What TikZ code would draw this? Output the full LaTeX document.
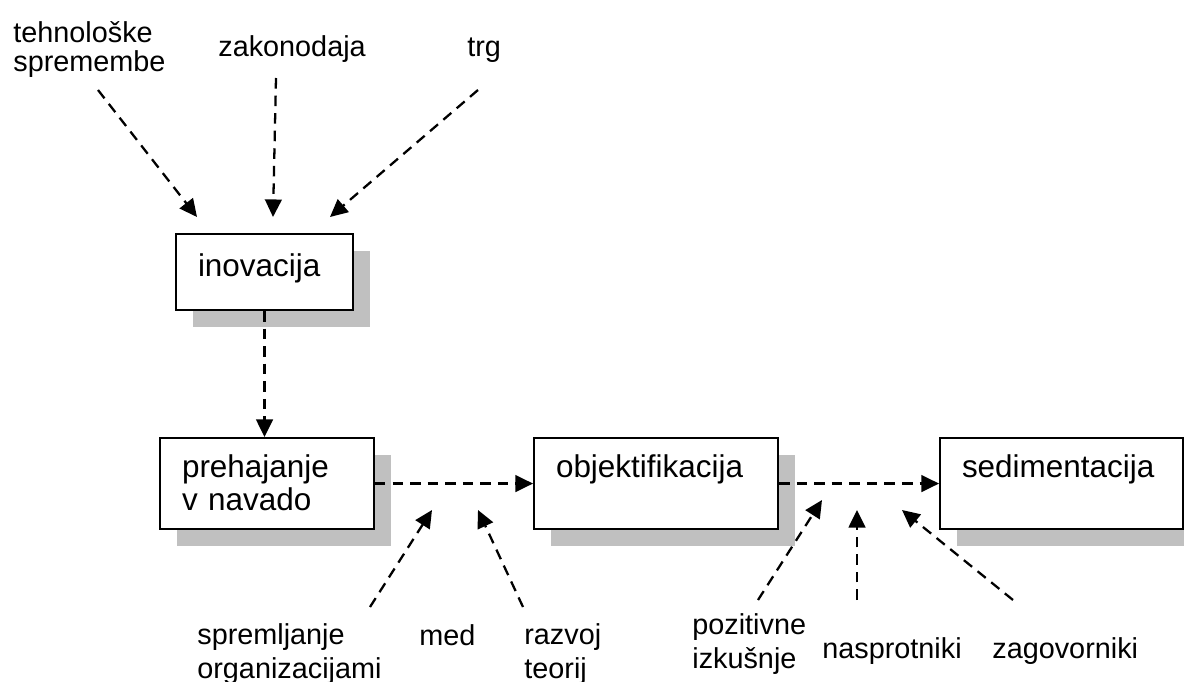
\documentclass[tikz,border=0pt]{standalone}
\usepackage{fontspec}
\setmainfont{Liberation Sans}
\usetikzlibrary{arrows.meta,shadows}
\definecolor{shade}{HTML}{C0C0C0}
\tikzset{
  txt/.style={font=\fontsize{17.9}{19}\selectfont},
  box/.style={txt, draw, line width=1.2pt, fill=white, anchor=north west,
    inner xsep=12.5pt, inner ysep=0pt, align=left,
    drop shadow={shadow xshift=9.7pt, shadow yshift=-9.7pt, fill=shade, opacity=1}},
  lowbox/.style={box, text height=22.2pt, text depth=29.6pt},
  flow/.style={line width=1.3pt, dash pattern=on 6pt off 4pt,
    -{Triangle[length=10pt,width=9.5pt]}},
  lbl/.style={font=\fontsize{16.4}{18.8}\selectfont, inner sep=0pt, align=left, anchor=base west},
}
\begin{document}
\begin{tikzpicture}[x=0.02cm, y=-0.02cm]
\useasboundingbox (0,0) rectangle (1184,682);

% process boxes
\node[box, text width=75.7pt, text height=23.9pt, text depth=19.3pt] (inov) at (175,233) {inovacija};
\node[lowbox, text width=96.7pt] (preh) at (159,437) {prehajanje\\v navado};
\node[lowbox, text width=113.8pt] (obj) at (533,437) {objektifikacija};
\node[lowbox, text width=113.2pt] (sed) at (939,437) {sedimentacija};

% influences on the innovation (multi-line labels anchored at their last line)
\node[lbl, font=\fontsize{16.4}{17}\selectfont] (teh) at (13,72) {tehnološke\\spremembe};
\node[lbl] (zak) at (218,57) {zakonodaja};
\node[lbl] (trg) at (467,57) {trg};

% influences below the chain
\node[lbl] (spr) at (197,678) {spremljanje\\organizacijami};
\node[lbl] (med) at (419,645) {med};
\node[lbl] (raz) at (524,678) {razvoj\\teorij};
\node[lbl] (poz) at (692,668) {pozitivne\\izkušnje};
\node[lbl] (nas) at (822,658) {nasprotniki};
\node[lbl] (zag) at (992,658) {zagovorniki};

% arrow ends
\coordinate (tehS) at (98,90);   \coordinate (tehE) at (197,217);
\coordinate (zakS) at (276,78);  \coordinate (zakE) at (273,217);
\coordinate (trgS) at (478,90);  \coordinate (trgE) at (330,217);
\coordinate (sprS) at (370,607); \coordinate (sprE) at (432,510);
\coordinate (razS) at (523,607); \coordinate (razE) at (478,510);
\coordinate (pozS) at (758,600); \coordinate (pozE) at (822,500);
\coordinate (nasS) at (857,600); \coordinate (nasE) at (857,510);
\coordinate (zagS) at (1013,600);\coordinate (zagE) at (902,510);

% main chain
\draw[flow] (inov.south) -- (inov.south |- preh.north);
\draw[flow] (preh.east) -- (obj.west);
\draw[flow] (obj.east) -- (sed.west);

% influence arrows
\draw[flow] (tehS) -- (tehE);
\draw[flow] (zakS) -- (zakE);
\draw[flow] (trgS) -- (trgE);
\draw[flow] (sprS) -- (sprE);
\draw[flow] (razS) -- (razE);
\draw[flow] (pozS) -- (pozE);
\draw[flow] (nasS) -- (nasE);
\draw[flow] (zagS) -- (zagE);
\end{tikzpicture}
\end{document}
